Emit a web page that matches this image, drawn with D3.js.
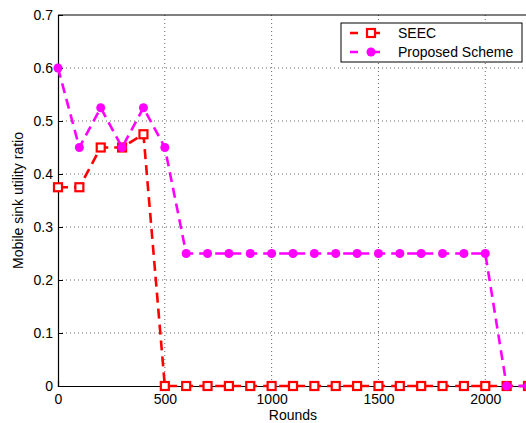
<!DOCTYPE html>
<html>
<head>
<meta charset="utf-8">
<script src="https://cdn.jsdelivr.net/npm/d3@7"></script>
<style>
  body { margin: 0; background: #fff; }
  text { font-family: "Liberation Sans", Arial, sans-serif; }
</style>
</head>
<body>
<div id="chart"></div>
<script>
// Data
const rounds = [0, 100, 200, 300, 400, 500, 600, 700, 800, 900, 1000, 1100, 1200,
  1300, 1400, 1500, 1600, 1700, 1800, 1900, 2000, 2100, 2200];
const seec = [0.375, 0.375, 0.45, 0.45, 0.475, 0, 0, 0, 0, 0, 0, 0, 0,
  0, 0, 0, 0, 0, 0, 0, 0, 0, 0];
const proposed = [0.6, 0.45, 0.525, 0.45, 0.525, 0.45, 0.25, 0.25, 0.25, 0.25, 0.25, 0.25, 0.25,
  0.25, 0.25, 0.25, 0.25, 0.25, 0.25, 0.25, 0.25, 0, 0];
const xTicks = [0, 500, 1000, 1500, 2000];
const yTicks = [0, 0.1, 0.2, 0.3, 0.4, 0.5, 0.6, 0.7];

const W = 526, H = 423;
const margin = { top: 15, right: -2, bottom: 37, left: 58 };
const width = W - margin.left - margin.right;
const height = H - margin.top - margin.bottom;

const svg = d3.select("#chart").append("svg")
  .attr("width", W)
  .attr("height", H);

const g = svg.append("g")
  .attr("transform", `translate(${margin.left},${margin.top})`);

const x = d3.scaleLinear().domain([0, 2200]).range([0, width]);
const y = d3.scaleLinear().domain([0, 0.7]).range([height, 0]);

// grid
g.append("g").selectAll("line")
  .data(xTicks.filter(d => d > 0))
  .join("line")
  .attr("x1", d => x(d)).attr("x2", d => x(d))
  .attr("y1", 0).attr("y2", height)
  .attr("stroke", "#666").attr("stroke-width", 1)
  .attr("stroke-dasharray", "1,3");
g.append("g").selectAll("line")
  .data(yTicks.filter(d => d > 0 && d < 0.7))
  .join("line")
  .attr("x1", 0).attr("x2", width)
  .attr("y1", d => y(d)).attr("y2", d => y(d))
  .attr("stroke", "#666").attr("stroke-width", 1)
  .attr("stroke-dasharray", "1,3");

// axes
const xAxis = g.append("g")
  .attr("transform", `translate(0,${height})`)
  .call(d3.axisBottom(x).tickValues(xTicks).tickSize(-5).tickPadding(8).tickFormat(d3.format("d")));
const yAxis = g.append("g")
  .call(d3.axisLeft(y).tickValues(yTicks).tickSize(-5).tickPadding(5).tickFormat(d => d === 0 ? "0" : d3.format(".1f")(d)));
[xAxis, yAxis].forEach(a => {
  a.select(".domain").attr("stroke", "#000").attr("stroke-width", 1.2);
  a.selectAll("text").attr("font-size", 14).attr("fill", "#000")
    .attr("font-family", "Liberation Sans, Arial, sans-serif");
});
g.append("line")
  .attr("x1", 0).attr("x2", width).attr("y1", 0).attr("y2", 0)
  .attr("stroke", "#000").attr("stroke-width", 1.2);

// axis labels
svg.append("text")
  .attr("x", margin.left + width / 2).attr("y", 420)
  .attr("text-anchor", "middle").attr("font-size", 14)
  .text("Rounds");
svg.append("text")
  .attr("transform", `translate(23,${margin.top + height / 2}) rotate(-90)`)
  .attr("text-anchor", "middle").attr("font-size", 14)
  .text("Mobile sink utility ratio");

const line = d3.line().x(d => x(d[0])).y(d => y(d[1]));
const seecPts = rounds.map((r, i) => [r, seec[i]]);
const propPts = rounds.map((r, i) => [r, proposed[i]]);

// SEEC
g.append("path").datum(seecPts)
  .attr("d", line).attr("fill", "none")
  .attr("stroke", "#ff0000").attr("stroke-width", 2.6)
  .attr("stroke-dasharray", "10,6");
g.append("g").selectAll("rect")
  .data(seecPts)
  .join("rect")
  .attr("x", d => x(d[0]) - 4).attr("y", d => y(d[1]) - 4)
  .attr("width", 8).attr("height", 8)
  .attr("fill", "#fff").attr("stroke", "#ff0000").attr("stroke-width", 2.2);

// Proposed
g.append("path").datum(propPts)
  .attr("d", line).attr("fill", "none")
  .attr("stroke", "#ff00ff").attr("stroke-width", 2.6)
  .attr("stroke-dasharray", "10,6");
g.append("g").selectAll("circle")
  .data(propPts)
  .join("circle")
  .attr("cx", d => x(d[0])).attr("cy", d => y(d[1]))
  .attr("r", 4.5).attr("fill", "#ff00ff");

// legend
const lg = svg.append("g").attr("transform", "translate(341,23)");
lg.append("rect")
  .attr("width", 181).attr("height", 39)
  .attr("fill", "#fff").attr("stroke", "#000").attr("stroke-width", 1);
const entries = [
  { name: "SEEC", color: "#ff0000", marker: "square" },
  { name: "Proposed Scheme", color: "#ff00ff", marker: "circle" }
];
entries.forEach((e, i) => {
  const ey = 10 + i * 19;
  lg.append("line")
    .attr("x1", 9).attr("x2", 52).attr("y1", ey).attr("y2", ey)
    .attr("stroke", e.color).attr("stroke-width", 2.6)
    .attr("stroke-dasharray", "8,14");
  if (e.marker === "square") {
    lg.append("rect")
      .attr("x", 26).attr("y", ey - 4).attr("width", 8).attr("height", 8)
      .attr("fill", "#fff").attr("stroke", e.color).attr("stroke-width", 2.2);
  } else {
    lg.append("circle").attr("cx", 30).attr("cy", ey).attr("r", 4.5).attr("fill", e.color);
  }
  lg.append("text")
    .attr("x", 57).attr("y", ey + 5)
    .attr("font-size", 14)
    .text(e.name);
});
</script>
</body>
</html>
